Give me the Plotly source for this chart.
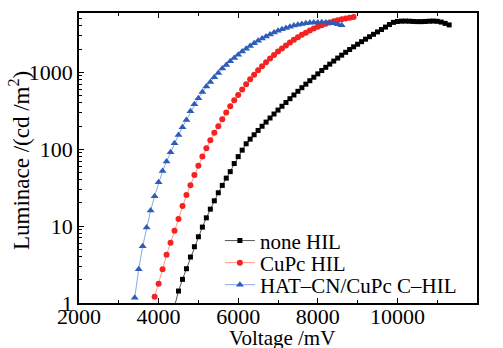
import plotly.graph_objects as go

# ---- data ----
none_v = [4400 + 100 * i for i in range(70)]
none_L = [0.9, 1.43, 2.03, 2.79, 3.96, 5.39, 7.26, 9.7, 12.8, 16.6,
          21.3, 27.1, 33.8, 42, 51, 65, 80, 97, 117.5, 134.9,
          153.8, 175.0, 198.6, 224.9, 254.1, 286.4, 322.1, 361.4, 404.6, 452.9,
          505.8, 564.9, 629.5, 699.8, 776.2, 861.0, 952.6, 1051.6, 1158.8, 1273.5,
          1396.4, 1528.2, 1667.2, 1815.5, 1972.4, 2137.9, 2312.1, 2496.2, 2691.5, 2897.0,
          3113.3, 3342.4, 3589.2, 3864.5, 4168.7, 4446.3, 4571.0, 4613.8, 4624.5, 4603.4,
          4570.9, 4549.9, 4549.9, 4570.9, 4603.4, 4624.5, 4591.4, 4487.5, 4315.2, 4121.0]

cupc_v = [3900 + 100 * i for i in range(51)]
cupc_L = [1.21, 1.78, 2.74, 4.24, 6.07, 8.7, 12.4, 18.2, 25.3, 34,
          46, 61, 80, 103, 131, 163, 199, 245, 299, 362,
          433, 507, 596, 698, 810, 930, 1060, 1200, 1350, 1510,
          1680, 1860, 2040, 2230, 2430, 2640, 2850, 3060, 3270, 3480,
          3690, 3890, 4080, 4260, 4430, 4590, 4740, 4880, 5000, 5110,
          5210]

hat_v = [3400 + 100 * i for i in range(53)]
hat_L = [1.17, 2.74, 5.45, 9.6, 16, 24.5, 37, 52, 69, 91,
         119, 153, 193, 240, 310, 384, 459, 555, 652, 748,
         861, 980, 1117, 1245, 1390, 1535, 1690, 1853, 2023, 2198,
         2377, 2559, 2742, 2924, 3105, 3281, 3451, 3614, 3767, 3908,
         4036, 4150, 4246, 4325, 4385, 4426, 4446, 4457, 4446, 4406,
         4325, 4207, 4093]

series_names = ["none HIL", "CuPc HIL", "HAT\u2013CN/CuPc C\u2013HIL"]
x_title = "Voltage /mV"
y_title = "Luminace /(cd /m<sup>2</sup>)"

x_tickvals = [2000, 4000, 6000, 8000, 10000, 12000]
x_ticktext = ["2000", "4000", "6000", "8000", "10000", "12000"]
y_tickvals = [1, 10, 100, 1000]
y_ticktext = ["1", "10", "100", "1000"]
y_minor = [m * 10 ** e for e in range(0, 4) for m in range(2, 10)]

FONT = "Liberation Serif"

fig = go.Figure()
fig.add_trace(go.Scatter(
    x=none_v, y=none_L, name=series_names[0], mode="lines+markers", legend="legend",
    line=dict(color="#555555", width=1),
    marker=dict(symbol="square", size=5, color="#000000")))
fig.add_trace(go.Scatter(
    x=cupc_v, y=cupc_L, name=series_names[1], mode="lines+markers", legend="legend2",
    line=dict(color="#ff9a8a", width=1),
    marker=dict(symbol="circle", size=6, color="#f52222")))
fig.add_trace(go.Scatter(
    x=hat_v, y=hat_L, name=series_names[2], mode="lines+markers", legend="legend3",
    line=dict(color="#8ea6e6", width=1),
    marker=dict(symbol="triangle-up", size=7, color="#2d5db8")))

leg_common = dict(x=0.354, xanchor="left", yanchor="middle",
                  bgcolor="rgba(255,255,255,0)", font=dict(size=21, family=FONT),
                  itemwidth=30)

fig.update_layout(
    width=503, height=348,
    margin=dict(l=79, r=26, t=13, b=45, autoexpand=False),
    paper_bgcolor="white", plot_bgcolor="white",
    font=dict(family=FONT, size=22, color="black"),
    showlegend=True,
    legend=dict(y=0.214, **leg_common),
    legend2=dict(y=0.138, **leg_common),
    legend3=dict(y=0.062, **leg_common),
    xaxis=dict(
        range=[2000, 12000], tickvals=x_tickvals, ticktext=x_ticktext,
        ticks="inside", ticklen=5, tickwidth=1, tickcolor="black",
        minor=dict(dtick=1000, tick0=2000, ticks="inside", ticklen=3, tickcolor="black"),
        showline=True, linecolor="black", linewidth=1.5, mirror="ticks",
        showgrid=False, zeroline=False, automargin=False,
        ticklabelstandoff=-7,
        tickfont=dict(size=22, family=FONT)),
    yaxis=dict(
        type="log", range=[0, 3.77],
        tickvals=y_tickvals, ticktext=y_ticktext,
        ticks="inside", ticklen=5, tickwidth=1, tickcolor="black",
        minor=dict(tickvals=y_minor, ticks="inside", ticklen=3, tickcolor="black"),
        showline=True, linecolor="black", linewidth=1.5, mirror=True,
        showgrid=False, zeroline=False, automargin=False,
        tickfont=dict(size=22, family=FONT)),
    annotations=[
        dict(text=x_title, xref="paper", yref="paper", x=0.51, y=-0.122,
             xanchor="center", yanchor="middle", showarrow=False,
             font=dict(size=21, family=FONT)),
        dict(text=y_title, xref="paper", yref="paper", x=-0.148, y=0.49,
             xanchor="center", yanchor="middle", showarrow=False, textangle=-90,
             font=dict(size=23, family=FONT)),
    ],
)

fig.write_html("out.html")
